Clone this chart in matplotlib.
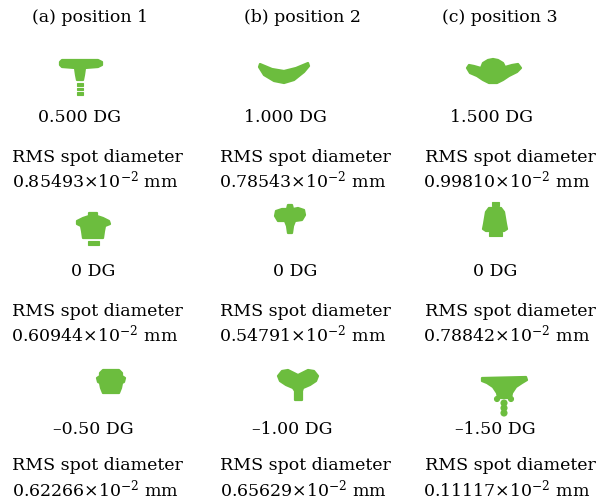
import matplotlib
matplotlib.use("Agg")
import matplotlib.pyplot as plt
from matplotlib.patches import Polygon, Circle, Rectangle

# Data: defocus settings and RMS spot diameters (x10^-2 mm)
titles = ["(a) position 1", "(b) position 2", "(c) position 3"]
dg_labels = [
    ["0.500 DG", "0 DG", "\u20130.50 DG"],
    ["1.000 DG", "0 DG", "\u20131.00 DG"],
    ["1.500 DG", "0 DG", "\u20131.50 DG"],
]
rms_diameters = [
    [0.85493, 0.60944, 0.62266],
    [0.78543, 0.54791, 0.65629],
    [0.99810, 0.78842, 0.11117],
]

# Spot outlines in local pixel units (y down), plus extra blobs
spot_shapes = {
    (0, 0): [(-20, -13), (-18, -15), (18, -15), (22, -13), (22, -10), (18, -8),
             (5, -7), (4, 0), (3, 5), (-3, 5), (-4, 0), (-5, -7), (-18, -8), (-20, -10)],
    (1, 0): [(-24, -9), (-12, -4), (0, -2), (12, -5), (24, -10), (25, -7), (20, -1),
             (10, 7), (0, 10), (-10, 8), (-20, 2), (-25, -6)],
    (2, 0): [(-26, -4), (-24, -7), (-19, -6), (-12, -4), (-10, -9), (-5, -12), (0, -13),
             (5, -12), (10, -9), (12, -5), (19, -7), (25, -8), (28, -4), (24, 0), (16, 4),
             (10, 8), (4, 11), (-4, 11), (-10, 8), (-16, 4), (-23, 1)],
    (0, 1): [(-4, -15), (4, -15), (4, -12), (10, -10), (16, -7), (17, -4), (12, -2),
             (11, 3), (10, 10), (-10, 10), (-11, 3), (-12, -2), (-16, -4), (-16, -7),
             (-10, -10), (-4, -12)],
    (1, 1): [(-2, -13), (2, -13), (3, -9), (8, -10), (14, -8), (15, -3), (12, 2), (5, 3),
             (3, 8), (2, 15), (-2, 15), (-3, 8), (-5, 3), (-12, 3), (-15, -2), (-14, -7),
             (-8, -9), (-3, -9)],
    (2, 1): [(-6, -12), (6, -12), (9, -8), (10, -2), (11, 4), (12, 9), (9, 11), (-9, 11),
             (-12, 9), (-11, 4), (-10, -2), (-9, -8)],
    (0, 2): [(-8, -12), (8, -12), (11, -9), (11, -6), (14, -4), (13, 0), (11, 1), (10, 6),
             (8, 11), (-8, 11), (-10, 6), (-11, 1), (-13, 0), (-14, -4), (-11, -6), (-11, -9)],
    (1, 2): [(-20, -7), (-16, -12), (-10, -13), (-4, -10), (0, -8), (4, -10), (10, -13),
             (16, -12), (20, -7), (18, -2), (12, 2), (5, 5), (4, 8), (4, 17), (-3, 17),
             (-3, 8), (-5, 5), (-12, 2), (-18, -2)],
    (2, 2): [(-22, -17), (22, -18), (23, -15), (18, -12), (12, -8), (8, -2), (7, 3),
             (-6, 3), (-7, -2), (-11, -8), (-17, -12), (-22, -14)],
}
# extra pieces: ("rect", x, y, w, h) or ("circle", x, y, r)
spot_extras = {
    (0, 0): [("rect", -3, 8, 6, 2.5), ("rect", -3, 12.5, 6, 2.5), ("rect", -3, 17, 6, 2.5)],
    (0, 1): [("rect", -5, 13, 11, 4)],
    (2, 1): [("rect", -3, -18, 7, 3.5), ("rect", -6, 12, 13, 4)],
    (2, 2): [("circle", -7, 4, 2.5), ("circle", 7, 4, 2.5), ("circle", 0, 8, 3),
             ("circle", 0, 13, 3), ("circle", 0, 18, 3)],
}

# Layout (pixel coordinates, y down)
spot_centers = [
    [(80, 75), (93, 228), (111, 382)],
    [(284, 73), (290, 218), (298, 383)],
    [(493, 72), (495, 220), (504, 395)],
]
title_x = [90, 302, 500]
dg_x = [[80, 93, 93], [285, 295, 292], [492, 495, 495]]
rms_x = [97, 305, 510]
val_x = [95, 303, 507]
dg_y = [118, 272, 430]
rms_y = [158, 312, 466]
val_y = [180, 334, 489]

green = "#6cbd3e"

plt.rcParams["font.family"] = "DejaVu Serif"
plt.rcParams["mathtext.fontset"] = "dejavuserif"

fig = plt.figure(figsize=(5.99, 5.0), dpi=100)
ax = fig.add_axes([0, 0, 1, 1])
ax.set_xlim(0, 599)
ax.set_ylim(500, 0)
ax.axis("off")

fs = 12.5
for c in range(3):
    ax.text(title_x[c], 18, titles[c], ha="center", va="center", fontsize=fs)
    for r in range(3):
        cx, cy = spot_centers[c][r]
        pts = [(cx + x, cy + y) for x, y in spot_shapes[(c, r)]]
        ax.add_patch(Polygon(pts, closed=True, facecolor=green, edgecolor=green,
                             linewidth=1.6, joinstyle="round"))
        for ex in spot_extras.get((c, r), []):
            if ex[0] == "rect":
                ax.add_patch(Rectangle((cx + ex[1], cy + ex[2]), ex[3], ex[4],
                                       facecolor=green, edgecolor=green, linewidth=0.8))
            else:
                ax.add_patch(Circle((cx + ex[1], cy + ex[2]), ex[3],
                                    facecolor=green, edgecolor=green, linewidth=0.8))
        ax.text(dg_x[c][r], dg_y[r], dg_labels[c][r], ha="center", va="center", fontsize=fs)
        ax.text(rms_x[c], rms_y[r], "RMS spot diameter", ha="center", va="center", fontsize=fs)
        ax.text(val_x[c], val_y[r], f"{rms_diameters[c][r]:.5f}\u00d710$^{{-2}}$ mm",
                ha="center", va="center", fontsize=fs)

fig.savefig("out.png", dpi=100, facecolor="white")
